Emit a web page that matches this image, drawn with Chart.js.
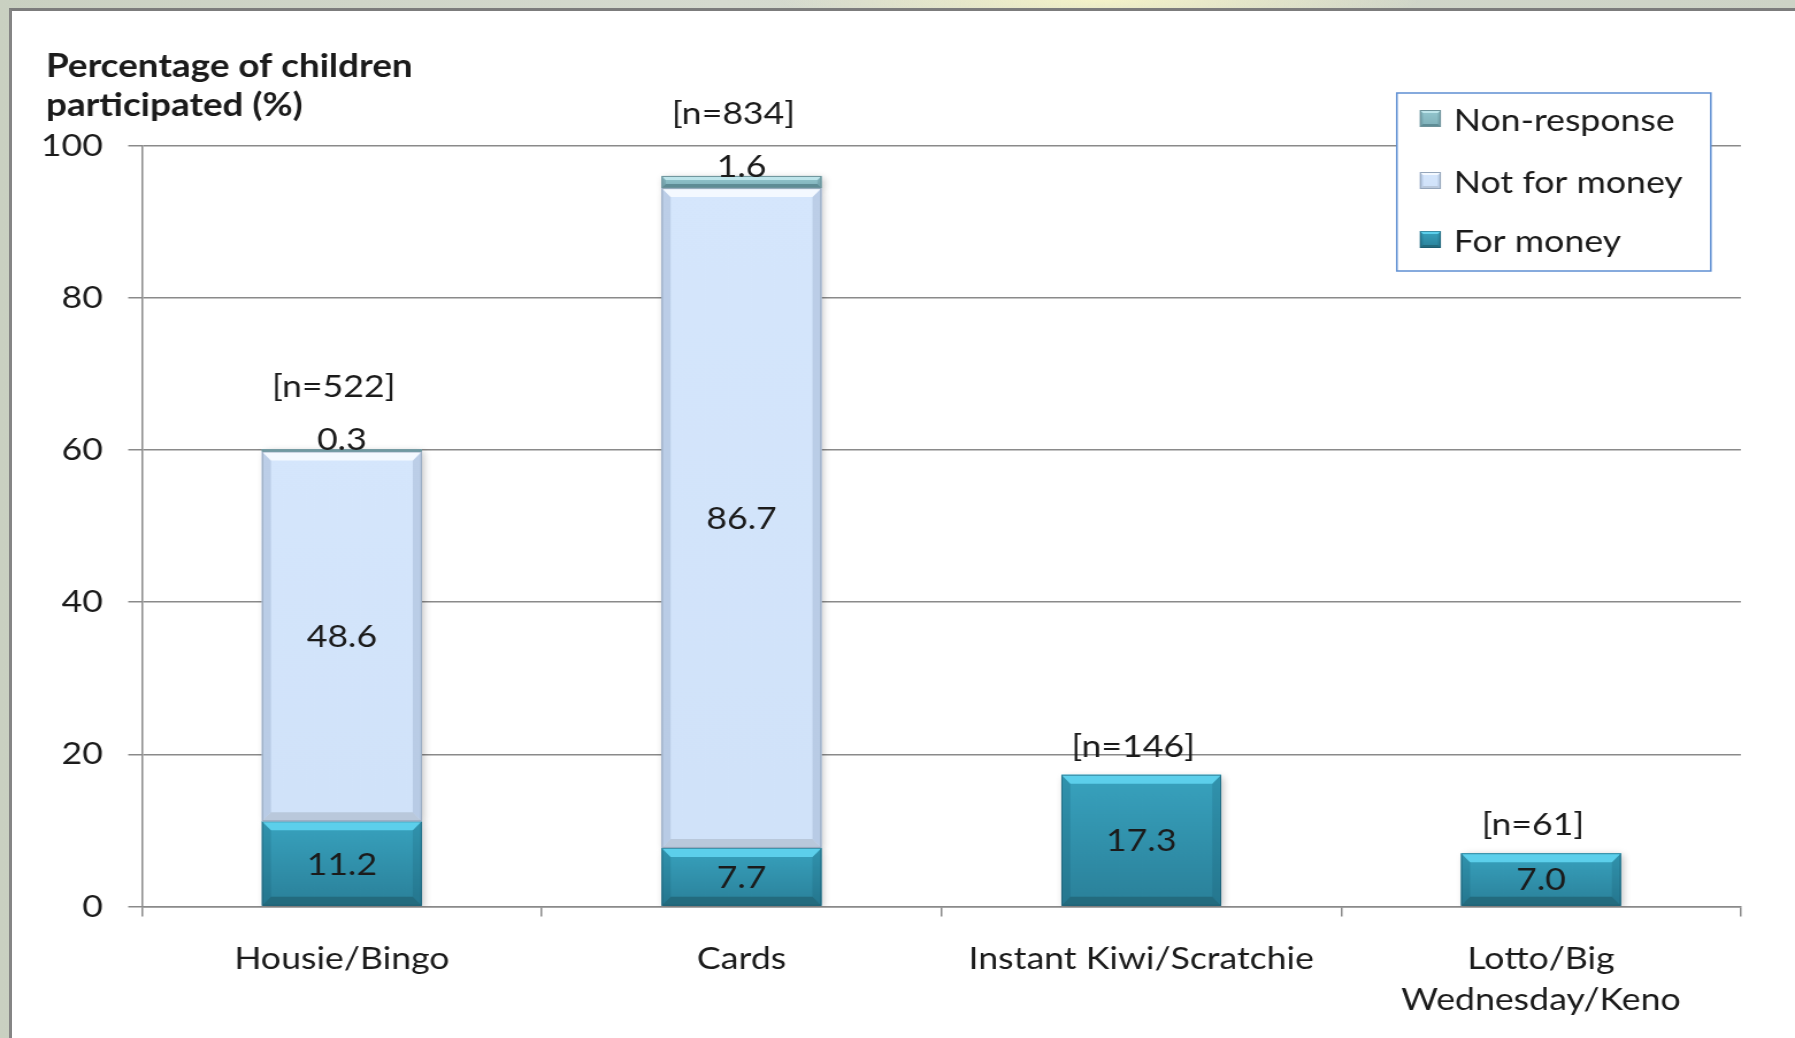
<!DOCTYPE html>
<html>
<head>
<meta charset="utf-8">
<title>Percentage of children participated</title>
<script src="https://cdn.jsdelivr.net/npm/chart.js@4.4.1/dist/chart.umd.min.js"></script>
<style>
  html, body { margin: 0; padding: 0; width: 1795px; height: 1038px; overflow: hidden; }
  body {
    background:
      radial-gradient(ellipse 320px 30px at 1100px 0px, rgba(246,244,200,0.95) 0%, rgba(246,244,200,0) 100%),
      linear-gradient(90deg, #c9d0c1 0%, #d5dacf 40%, #cdd3c6 100%);
  }
  #frame {
    position: absolute; left: 9px; top: 8px; width: 1900px; height: 1100px;
    background: #ffffff; border-left: 3px solid #858585; border-top: 3px solid #7c7c7c;
  }
  /* the drawing is laid out on a narrower canvas and widened to the page */
  #chart { position: absolute; left: 0; top: 0; transform-origin: 0 0; }
</style>
</head>
<body>
<div id="frame"></div>
<canvas id="chart"></canvas>
<script>
// ---- data -------------------------------------------------------------
const categories = ['Housie/Bingo', 'Cards', 'Instant Kiwi/Scratchie', ['Lotto/Big', 'Wednesday/Keno']];
const forMoney    = [11.2, 7.7, 17.3, 7.0];
const notForMoney = [48.6, 86.7, null, null];
const nonResponse = [0.3, 1.6, null, null];
const sampleSizes = ['[n=522]', '[n=834]', '[n=146]', '[n=61]'];
const axisTitle   = ['Percentage of children', 'participated (%)'];
const yMin = 0, yMax = 100, yStep = 20;

// ---- page geometry ----------------------------------------------------
const PAGE_W = 1795, PAGE_H = 1038;
const SX = 1.15;                              // horizontal widening of the canvas
const W = Math.round(PAGE_W / SX);
const canvas = document.getElementById('chart');
canvas.width = W; canvas.height = PAGE_H;
canvas.style.width = W + 'px'; canvas.style.height = PAGE_H + 'px';
canvas.style.transform = 'scaleX(' + (PAGE_W / W) + ')';

const FONT = 'Lato';
const INK = '#1b1b1b';
const GRID = '#8a8a8a';

// ---- bevelled bar look --------------------------------------------------
function poly(ctx, pts, fill) {
  ctx.beginPath();
  ctx.moveTo(pts[0][0], pts[0][1]);
  for (let i = 1; i < pts.length; i++) ctx.lineTo(pts[i][0], pts[i][1]);
  ctx.closePath();
  ctx.fillStyle = fill;
  ctx.fill();
}

function bevelRect(ctx, l, t, w, h, st, size) {
  if (h <= 0.5 || w <= 0.5) return;
  const r = l + w, b = t + h;
  const dv = Math.min(size, h / 3), dh = dv / SX;
  const face = ctx.createLinearGradient(0, t, 0, b);
  face.addColorStop(0, st.faceTop);
  face.addColorStop(1, st.faceBottom);
  ctx.fillStyle = face;
  ctx.fillRect(l, t, w, h);
  poly(ctx, [[l, t], [l + dh, t + dv], [l + dh, b - dv], [l, b]], st.side);
  poly(ctx, [[r, t], [r - dh, t + dv], [r - dh, b - dv], [r, b]], st.side);
  poly(ctx, [[l, t], [r, t], [r - dh, t + dv], [l + dh, t + dv]], st.top);
  poly(ctx, [[l, b], [r, b], [r - dh, b - dv], [l + dh, b - dv]], st.bottom);
  ctx.strokeStyle = st.edge;
  ctx.lineWidth = 1;
  ctx.strokeRect(l + 0.5, t + 0.5, w - 1, h - 1);
}

const styleForMoney = {
  faceTop: '#38a2be', faceBottom: '#2a8099', top: '#5ccfeb', bottom: '#236b7e',
  side: 'rgba(15,70,90,0.16)', edge: 'rgba(25,80,100,0.5)'
};
const styleNotForMoney = {
  faceTop: '#d5e6fc', faceBottom: '#d0e2f9', top: '#f4f9ff', bottom: '#b9c8db',
  side: 'rgba(100,125,160,0.22)', edge: '#95a6bb'
};
const styleNonResponse = {
  faceTop: '#94c7cf', faceBottom: '#7eafb8', top: '#bde4ea', bottom: '#5e8c95',
  side: 'rgba(50,90,100,0.18)', edge: '#6d929a'
};

function segmentBox(el) {
  const p = el.getProps(['x', 'y', 'base', 'width'], true);
  const t = Math.min(p.y, p.base), b = Math.max(p.y, p.base);
  return { l: p.x - p.width / 2, t: t, w: p.width, h: b - t, x: p.x };
}

const barLook = {
  id: 'barLook',
  beforeDatasetsDraw(chart) {
    const ctx = chart.ctx;
    ctx.save();
    ctx.shadowColor = 'rgba(0,0,0,0.25)';
    ctx.shadowBlur = 7;
    ctx.shadowOffsetX = 2;
    ctx.shadowOffsetY = 2;
  },
  afterDatasetsDraw(chart) {
    const ctx = chart.ctx;
    ctx.restore();
    ctx.save();
    chart.data.datasets.forEach((ds, di) => {
      chart.getDatasetMeta(di).data.forEach((el, i) => {
        if (ds.data[i] == null) return;
        const s = segmentBox(el);
        bevelRect(ctx, s.l, s.t, s.w, s.h, ds.look, 9);
      });
    });

    // values inside the segments
    ctx.font = '31px ' + FONT;
    ctx.fillStyle = INK;
    ctx.textAlign = 'center';
    [0, 1].forEach(di => {
      const ds = chart.data.datasets[di];
      ctx.textBaseline = 'middle';
      chart.getDatasetMeta(di).data.forEach((el, i) => {
        const v = ds.data[i];
        if (v == null) return;
        const s = segmentBox(el);
        ctx.fillText(v.toFixed(1), s.x, s.t + s.h / 2 + 1);
      });
    });
    // non-response values sit on top of the stack
    ctx.textBaseline = 'alphabetic';
    chart.getDatasetMeta(2).data.forEach((el, i) => {
      const v = nonResponse[i];
      if (v == null) return;
      const s = segmentBox(el);
      ctx.fillText(v.toFixed(1), s.x, s.t + 1);
    });
    // sample sizes above each column
    sampleSizes.forEach((txt, i) => {
      let top = Infinity, x = 0;
      chart.data.datasets.forEach((ds, di) => {
        if (ds.data[i] == null) return;
        const s = segmentBox(chart.getDatasetMeta(di).data[i]);
        top = Math.min(top, s.t);
        x = s.x;
      });
      const lift = nonResponse[i] != null ? 52 : 18;
      ctx.fillText(txt, x - 7, top - lift);
    });
    ctx.restore();
  },
  afterDraw(chart) {
    const ctx = chart.ctx;
    ctx.save();
    // axis title, top left
    ctx.font = 'bold 32px ' + FONT;
    ctx.fillStyle = INK;
    ctx.textAlign = 'left';
    ctx.textBaseline = 'alphabetic';
    ctx.fillText(axisTitle[0], 40, 77);
    ctx.fillText(axisTitle[1], 40, 116);

    // legend box
    const bl = 1397 / SX, bt = 93, br = 1711 / SX, bb = 271;
    ctx.fillStyle = '#ffffff';
    ctx.fillRect(bl, bt, br - bl, bb - bt);
    ctx.strokeStyle = '#5f8fd2';
    ctx.lineWidth = 1.5;
    ctx.strokeRect(bl, bt, br - bl, bb - bt);
    const rows = [120, 182, 241];
    const order = [2, 1, 0];
    ctx.font = '31px ' + FONT;
    order.forEach((di, k) => {
      const ds = chart.data.datasets[di];
      const cy = rows[k];
      bevelRect(ctx, 1420 / SX, cy - 10, 21 / SX, 17, ds.look, 3);
      ctx.fillStyle = INK;
      ctx.fillText(ds.label, 1454 / SX, cy + 11);
    });
    ctx.restore();
  }
};

// ---- chart ------------------------------------------------------------
new Chart(canvas, {
  type: 'bar',
  data: {
    labels: categories,
    datasets: [
      { label: 'For money',     data: forMoney,    backgroundColor: '#2c8ea9', borderWidth: 0, look: styleForMoney },
      { label: 'Not for money', data: notForMoney, backgroundColor: '#d3e5fb', borderWidth: 0, look: styleNotForMoney },
      { label: 'Non-response',  data: nonResponse, backgroundColor: '#88bac3', borderWidth: 0, look: styleNonResponse }
    ]
  },
  options: {
    responsive: false,
    animation: false,
    devicePixelRatio: 1,
    layout: { padding: { left: 0, right: W - 1741 / SX, top: 145.5, bottom: 0 } },
    datasets: { bar: { categoryPercentage: 1, barPercentage: 0.4 } },
    plugins: {
      legend: { display: false },
      tooltip: { enabled: false },
      title: { display: false }
    },
    scales: {
      x: {
        stacked: true,
        grid: { display: true, drawOnChartArea: false, drawTicks: true, tickLength: 10, color: GRID, lineWidth: 1.5, offset: true },
        border: { display: true, color: GRID, width: 1.5 },
        ticks: { color: INK, font: { family: FONT, size: 31, lineHeight: 41 / 31 }, padding: 22, maxRotation: 0, autoSkip: false },
        afterFit(scale) { scale.height = PAGE_H - 906.5; }
      },
      y: {
        stacked: true,
        min: yMin, max: yMax,
        ticks: { stepSize: yStep, color: INK, font: { family: FONT, size: 31 }, padding: 22 },
        grid: { color: GRID, lineWidth: 1.5, drawTicks: true, tickLength: 12 },
        border: { display: true, color: GRID, width: 1.5 },
        afterFit(scale) { scale.width = 142 / SX; }
      }
    }
  },
  plugins: [barLook]
});
</script>
</body>
</html>
